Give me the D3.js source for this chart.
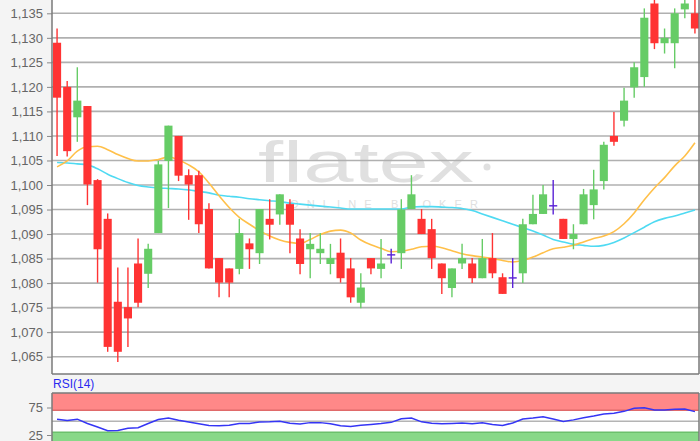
<!DOCTYPE html>
<html>
<head>
<meta charset="utf-8">
<script src="https://cdn.jsdelivr.net/npm/d3@7/dist/d3.min.js"></script>
<style>
  body { margin: 0; background: #f4f4f4; }
  text { font-family: "Liberation Sans", Arial, sans-serif; }
</style>
</head>
<body>
<div id="chart"></div>
<script>
// candle data (oldest -> newest)
var openP  = [1.1290,1.1200,1.1138,1.1161,1.1010,1.0931,1.0762,1.0751,1.0840,1.0819,1.0902,1.1049,1.1100,1.1020,1.1020,1.0951,
              1.0851,1.0830,1.0829,1.0881,1.0861,1.0931,1.0940,1.0961,1.0891,1.0869,1.0861,1.0839,1.0862,1.0830,1.0760,1.0851,
              1.0829,1.0859,1.0861,1.0951,1.0931,1.0910,1.0840,1.0790,1.0840,1.0840,1.0810,1.0851,1.0812,1.0812,1.0820,1.0920,
              1.0941,1.0959,1.0931,1.0890,1.0920,1.0959,1.1008,1.1100,1.1131,1.1199,1.1220,1.1370,1.1289,1.1289,1.1358,1.1350];
var highP  = [1.1319,1.1212,1.1240,1.1161,1.1012,1.0942,1.0832,1.0832,1.0891,1.0880,1.1049,1.1121,1.1100,1.1032,1.1029,1.0963,
              1.0851,1.0830,1.0931,1.0891,1.0951,1.0971,1.0981,1.0971,1.0910,1.0902,1.0902,1.0880,1.0891,1.0851,1.0820,1.0851,
              1.0890,1.0870,1.0971,1.1020,1.0951,1.0931,1.0840,1.0830,1.0880,1.0851,1.0890,1.0902,1.0820,1.0851,1.0931,1.0980,
              1.1000,1.1010,1.0931,1.0920,1.0992,1.1031,1.1088,1.1149,1.1198,1.1250,1.1360,1.1385,1.1319,1.1360,1.1385,1.1385];
var lowP   = [1.1059,1.1058,1.1088,1.0959,1.0801,1.0660,1.0639,1.0670,1.0751,1.0790,1.0902,1.0953,1.1008,1.0929,1.0902,1.0830,
              1.0771,1.0771,1.0818,1.0829,1.0839,1.0889,1.0919,1.0861,1.0818,1.0810,1.0839,1.0818,1.0801,1.0760,1.0749,1.0818,
              1.0810,1.0840,1.0829,1.0951,1.0900,1.0829,1.0778,1.0771,1.0829,1.0800,1.0810,1.0810,1.0778,1.0790,1.0800,1.0920,
              1.0941,1.0940,1.0890,1.0869,1.0920,1.0930,1.0991,1.1080,1.1119,1.1178,1.1200,1.1277,1.1268,1.1238,1.1340,1.1309];
var closeP = [1.1178,1.1069,1.1172,1.1001,1.0869,1.0670,1.0660,1.0728,1.0760,1.0870,1.1042,1.1121,1.1019,1.1001,1.0920,1.0830,
              1.0801,1.0801,1.0902,1.0869,1.0951,1.0919,1.0981,1.0919,1.0839,1.0880,1.0870,1.0851,1.0810,1.0771,1.0791,1.0830,
              1.0840,1.0859,1.0950,1.0981,1.0900,1.0851,1.0810,1.0830,1.0851,1.0810,1.0851,1.0820,1.0778,1.0812,1.0920,1.0941,
              1.0981,1.0959,1.0890,1.0900,1.0981,1.0991,1.1082,1.1088,1.1172,1.1240,1.1341,1.1289,1.1300,1.1350,1.1370,1.1319];

// moving averages (orange = short, cyan = long)
var maShort = [1.1037,1.1049,1.1069,1.1078,1.1079,1.1072,1.1062,1.1054,1.1049,1.1049,1.1052,1.1057,1.1051,1.1041,1.1027,1.1004,
               1.0978,1.0954,1.0934,1.0920,1.0907,1.0896,1.0888,1.0883,1.0881,1.0889,1.0899,1.0906,1.0908,1.0902,1.0888,1.0878,
               1.0871,1.0864,1.0865,1.0869,1.0874,1.0875,1.0872,1.0866,1.0860,1.0856,1.0853,1.0850,1.0846,1.0843,1.0846,1.0853,
               1.0862,1.0870,1.0873,1.0877,1.0884,1.0891,1.0896,1.0905,1.0921,1.0943,1.0970,1.0994,1.1015,1.1039,1.1059,1.1086];
var maLong  = [1.1046,1.1045,1.1043,1.1041,1.1033,1.1022,1.1013,1.1005,1.0999,1.0996,1.0994,1.0993,1.0992,1.0990,1.0987,1.0984,
               1.0979,1.0977,1.0975,1.0972,1.0970,1.0968,1.0966,1.0963,1.0961,1.0959,1.0957,1.0955,1.0953,1.0951,1.0951,1.0951,
               1.0951,1.0951,1.0951,1.0955,1.0956,1.0956,1.0955,1.0954,1.0952,1.0948,1.0941,1.0934,1.0927,1.0920,1.0913,1.0906,
               1.0898,1.0889,1.0884,1.0879,1.0877,1.0875,1.0877,1.0883,1.0892,1.0903,1.0914,1.0925,1.0932,1.0937,1.0943,1.0949];

// RSI(14)
var rsi = [53.5,51.5,53.8,46.0,39.6,32.9,33.3,37.1,38.2,46.0,53.1,56.0,51.8,48.7,45.6,42.4,
           42.0,42.9,46.0,46.0,48.7,49.1,50.0,46.5,45.1,47.5,47.5,45.5,41.8,40.4,42.7,44.2,
           45.8,48.0,54.5,55.8,48.9,46.5,45.5,46.0,46.9,45.6,47.3,44.0,42.2,46.9,54.0,55.8,
           58.2,54.2,49.6,52.5,56.4,59.6,63.3,64.7,68.0,73.6,74.4,70.5,70.5,72.0,72.4,67.5];

var priceTicks = [1.065,1.070,1.075,1.080,1.085,1.090,1.095,1.100,1.105,1.110,1.115,1.120,1.125,1.130,1.135];
var rsiTicks = [25, 75];

var W = 700, H = 441;
var plotL = 52, plotR = 699, plotB = 374;
var rsiTop = 393;

var deFormat = d3.formatLocale({ decimal: ",", thousands: ".", grouping: [3], currency: ["", "€"] }).format(".3f");

var svg = d3.select("#chart").append("svg")
  .attr("width", W)
  .attr("height", H)
  .style("display", "block");

svg.append("rect").attr("width", W).attr("height", H).attr("fill", "#f4f4f4");

var idx = d3.range(openP.length);
var xScale = d3.scaleBand().domain(idx).range([plotL, 700]).paddingInner(0.2).paddingOuter(0.1);
var yScale = d3.scaleLinear().domain([1.065, 1.135]).range([356.7, 13.3]);
var rsiScale = d3.scaleLinear().domain([25, 75]).range([435, 407.5]);
var cx = function (i) { return xScale(i) + xScale.bandwidth() / 2; };

// ---------- main panel ----------
svg.append("rect")
  .attr("x", plotL).attr("y", -2)
  .attr("width", plotR - plotL).attr("height", plotB + 2)
  .attr("fill", "#ffffff");

var g = svg.append("g");

// watermark
g.append("text")
  .attr("x", 258).attr("y", 182)
  .attr("font-size", "58px")
  .attr("font-family", "'DejaVu Sans ExtraLight', 'Open Sans', 'DejaVu Sans', sans-serif")
  .attr("font-weight", 200)
  .attr("textLength", 216)
  .attr("lengthAdjust", "spacingAndGlyphs")
  .attr("fill", "#e0e0e0")
  .text("flatex");
g.append("circle").attr("cx", 487).attr("cy", 167).attr("r", 3.5).attr("fill", "#e0e0e0");
g.append("text")
  .attr("x", 290).attr("y", 208)
  .attr("font-size", "11px")
  .attr("textLength", 188)
  .attr("lengthAdjust", "spacing")
  .attr("fill", "#e0e0e0")
  .text("ONLINE BROKER");

// grid
g.selectAll(".grid")
  .data(priceTicks)
  .enter().append("line")
  .attr("class", "grid")
  .attr("x1", plotL).attr("x2", 700)
  .attr("y1", function (d) { return yScale(d); })
  .attr("y2", function (d) { return yScale(d); })
  .attr("stroke", "#b0b0b0")
  .attr("stroke-width", 1.6);

// moving averages
var maLine = d3.line()
  .x(function (d, i) { return cx(i); })
  .y(function (d) { return yScale(d); })
  .curve(d3.curveMonotoneX);

g.append("path").datum(maLong)
  .attr("d", maLine).attr("fill", "none")
  .attr("stroke", "#4fdaf2").attr("stroke-width", 1.6);
g.append("path").datum(maShort)
  .attr("d", maLine).attr("fill", "none")
  .attr("stroke", "#ffc04a").attr("stroke-width", 1.6);

function candleColor(i) {
  if (closeP[i] > openP[i]) return "#66cc66";
  if (closeP[i] < openP[i]) return "#ff3333";
  return "#5a22d6";
}

var candles = g.selectAll(".candle")
  .data(idx)
  .enter().append("g")
  .attr("class", "candle");

candles.append("line")
  .attr("x1", function (i) { return cx(i); })
  .attr("x2", function (i) { return cx(i); })
  .attr("y1", function (i) { return yScale(highP[i]); })
  .attr("y2", function (i) { return yScale(lowP[i]); })
  .attr("stroke", candleColor)
  .attr("stroke-width", 1.4);

candles.append("rect")
  .attr("x", function (i) { return xScale(i); })
  .attr("width", xScale.bandwidth())
  .attr("y", function (i) { return yScale(Math.max(openP[i], closeP[i])); })
  .attr("height", function (i) {
    var h = Math.abs(yScale(openP[i]) - yScale(closeP[i]));
    return h < 1.4 ? 1.4 : h;
  })
  .attr("fill", candleColor);

// cover top overflow
svg.append("rect").attr("x", plotL).attr("y", -20).attr("width", W).attr("height", 20).attr("fill", "#f4f4f4");

// axis
var yAxis = svg.append("g")
  .attr("transform", "translate(" + plotL + ",0)")
  .call(d3.axisLeft(yScale).tickValues(priceTicks).tickFormat(deFormat).tickSize(5).tickPadding(4));
yAxis.select(".domain").remove();
yAxis.selectAll(".tick line").attr("stroke", "#888");
yAxis.selectAll(".tick text")
  .attr("fill", "#666")
  .style("font-size", "13px")
  .style("font-family", "'Liberation Sans', Arial, sans-serif");

// frame
svg.append("line").attr("x1", plotL).attr("x2", plotL).attr("y1", 0).attr("y2", plotB)
  .attr("stroke", "#7a7a7a").attr("stroke-width", 1.5);
svg.append("line").attr("x1", plotL).attr("x2", plotR).attr("y1", plotB).attr("y2", plotB)
  .attr("stroke", "#7a7a7a").attr("stroke-width", 1.5);
svg.append("line").attr("x1", plotR).attr("x2", plotR).attr("y1", 0).attr("y2", plotB)
  .attr("stroke", "#7a7a7a").attr("stroke-width", 1.5);

// ---------- RSI panel ----------
svg.append("text")
  .attr("x", plotL + 1).attr("y", 388)
  .attr("fill", "#2a2af0")
  .style("font-size", "12px")
  .text("RSI(14)");

var r = svg.append("g");
r.append("rect")
  .attr("x", plotL).attr("y", rsiTop)
  .attr("width", plotR - plotL).attr("height", H - rsiTop + 5)
  .attr("fill", "#ffffff");

// overbought / oversold zones
r.append("rect")
  .attr("x", plotL).attr("y", rsiTop)
  .attr("width", plotR - plotL).attr("height", rsiScale(70) - rsiTop)
  .attr("fill", "#ff8888");
r.append("line")
  .attr("x1", plotL).attr("x2", plotR)
  .attr("y1", rsiScale(70)).attr("y2", rsiScale(70))
  .attr("stroke", "#e06a6a").attr("stroke-width", 1.5);
r.append("rect")
  .attr("x", plotL).attr("y", rsiScale(30))
  .attr("width", plotR - plotL).attr("height", H - rsiScale(30) + 5)
  .attr("fill", "#88d888");
r.append("line")
  .attr("x1", plotL).attr("x2", plotR)
  .attr("y1", rsiScale(30)).attr("y2", rsiScale(30))
  .attr("stroke", "#6cc06c").attr("stroke-width", 1.5);
r.append("line")
  .attr("x1", plotL).attr("x2", plotR)
  .attr("y1", rsiScale(50)).attr("y2", rsiScale(50))
  .attr("stroke", "#b4b4b4").attr("stroke-width", 1.6);

r.append("path").datum(rsi)
  .attr("fill", "none")
  .attr("stroke", "#3535f5")
  .attr("stroke-width", 1.5)
  .attr("d", d3.line()
    .x(function (d, i) { return cx(i); })
    .y(function (d) { return rsiScale(d); }));

r.append("line").attr("x1", plotL).attr("x2", plotR).attr("y1", rsiTop).attr("y2", rsiTop)
  .attr("stroke", "#7a7a7a").attr("stroke-width", 1.5);
r.append("line").attr("x1", plotL).attr("x2", plotL).attr("y1", rsiTop).attr("y2", H)
  .attr("stroke", "#7a7a7a").attr("stroke-width", 1.5);
r.append("line").attr("x1", plotR).attr("x2", plotR).attr("y1", rsiTop).attr("y2", H)
  .attr("stroke", "#7a7a7a").attr("stroke-width", 1.5);

var rAxis = svg.append("g")
  .attr("transform", "translate(" + plotL + ",0)")
  .call(d3.axisLeft(rsiScale).tickValues(rsiTicks).tickSize(5).tickPadding(4));
rAxis.select(".domain").remove();
rAxis.selectAll(".tick line").attr("stroke", "#888");
rAxis.selectAll(".tick text")
  .attr("fill", "#666")
  .style("font-size", "13px")
  .style("font-family", "'Liberation Sans', Arial, sans-serif");
</script>
</body>
</html>
